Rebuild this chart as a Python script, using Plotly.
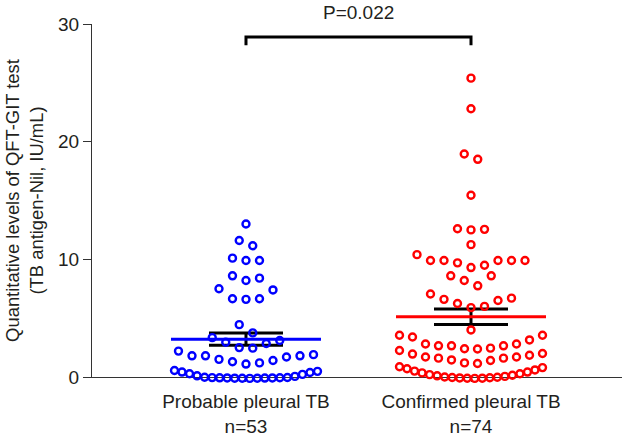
import numpy as np
import plotly.graph_objects as go

# ---------------- data ----------------
categories = ["Probable pleural TB", "Confirmed pleural TB"]
group_n_labels = ["n=53", "n=74"]
y_ticks = [0, 10, 20, 30]
p_text = "P=0.022"

probable_values = [
    -0.12, -0.11, -0.10, -0.10, -0.09, -0.08, -0.08, -0.07, -0.06, -0.05,
    -0.04, -0.02, 0.05, 0.10, 0.22, 0.28, 0.38, 0.42, 0.48, 0.55,
    1.1, 1.2, 1.3, 1.4, 1.5, 1.7, 1.8, 1.8, 1.8, 1.9, 2.2,
    2.45, 2.5, 2.85, 2.95, 3.1, 3.35,
    3.75, 4.45,
    6.6, 6.65, 6.65, 7.4, 7.5,
    8.2, 8.4, 8.6,
    9.9, 9.9, 10.1,
    11.15, 11.6,
    13.0,
]

confirmed_values = [
    -0.12, -0.11, -0.10, -0.08, -0.06, -0.04, -0.02, 0.0, 0.05, 0.10,
    0.15, 0.20, 0.28, 0.35, 0.42, 0.50, 0.60, 0.70, 0.80, 0.87,
    1.15, 1.2, 1.4, 1.45, 1.6, 1.6, 1.7, 1.7, 1.85, 1.95, 2.0, 2.25,
    2.38, 2.4, 2.45, 2.65, 2.65, 2.65, 2.8, 2.8, 3.15, 3.4, 3.55, 3.55,
    4.0,
    5.9, 6.0, 6.25, 6.5, 6.6, 6.7, 7.05,
    7.75, 8.2, 8.6, 8.6,
    9.3, 9.5, 9.7, 9.9, 9.9, 9.9, 9.9, 9.9, 10.4,
    11.25,
    12.5, 12.55, 12.6,
    15.45,
    18.5, 18.95,
    22.8,
    25.4,
]

colors = ["#0000FF", "#FF0000"]

# ---------------- layout constants ----------------
W, H = 624, 437
ML, MR, MT, MB = 92, 2, 24, 45
AXIS_Y_PX = 377                      # pixel row of the x axis (y = 0)
X_RANGE = [-0.6844, 1.6711]
Y_RANGE = [0, 30]
PX_PER_X = (W - ML - MR) / (X_RANGE[1] - X_RANGE[0])
PLOT_H = H - MT - MB
DOM_LOW = (H - MB - AXIS_Y_PX) / PLOT_H
PX_PER_Y = (AXIS_Y_PX - MT) / (Y_RANGE[1] - Y_RANGE[0])
Y2_RANGE = [Y_RANGE[0] - (H - MB - AXIS_Y_PX) / PX_PER_Y, Y_RANGE[1]]

FONT = "Liberation Sans, Arial, Helvetica, sans-serif"
TXT = "#231f20"


def swarm_offsets(values, row_height=1.2, spacing_px=13.5, max_width_px=143):
    """Prism-like scatter-dot layout: bin into rows, spread centred."""
    v = np.asarray(values, dtype=float)
    order = np.argsort(v, kind="stable")
    sv = v[order]
    offs = np.zeros(len(v))
    spacing = spacing_px / PX_PER_X
    max_w = max_width_px / PX_PER_X
    i = 0
    while i < len(sv):
        j = i
        while j < len(sv) and sv[j] < sv[i] + row_height - 1e-9:
            j += 1
        n = j - i
        step = spacing if n <= 1 else min(spacing, max_w / (n - 1))
        if n % 2 == 1:
            slots = [0.0]
            k = 1
            while len(slots) < n:
                slots += [k, -k]
                k += 1
        else:
            slots = []
            k = 0.5
            while len(slots) < n:
                slots += [k, -k]
                k += 1
        for m in range(n):
            offs[order[i + m]] = slots[m] * step
        i = j
    return offs


fig = go.Figure()

mean_half = 75 / PX_PER_X
sem_half = 37 / PX_PER_X

for gi, vals in enumerate([probable_values, confirmed_values]):
    arr = np.asarray(vals, dtype=float)
    mean = arr.mean()
    sem = arr.std(ddof=1) / np.sqrt(len(arr))
    # SEM bars (black)
    fig.add_trace(go.Scatter(
        x=[gi - sem_half, gi + sem_half, None, gi - sem_half, gi + sem_half, None, gi, gi],
        y=[mean + sem, mean + sem, None, mean - sem, mean - sem, None, mean - sem, mean + sem],
        mode="lines", line=dict(color="black", width=3), showlegend=False,
        hoverinfo="skip", cliponaxis=False, xaxis="x", yaxis="y2"))
    # mean line
    fig.add_trace(go.Scatter(
        x=[gi - mean_half, gi + mean_half], y=[mean, mean],
        mode="lines", line=dict(color=colors[gi], width=3), showlegend=False,
        hoverinfo="skip", cliponaxis=False, xaxis="x", yaxis="y2"))
    # points
    offs = swarm_offsets(arr)
    fig.add_trace(go.Scatter(
        x=gi + offs, y=arr, mode="markers",
        marker=dict(symbol="circle-open", size=7, color=colors[gi],
                    line=dict(width=2.4, color=colors[gi])),
        showlegend=False, cliponaxis=False, xaxis="x", yaxis="y2"))

# significance bracket
BR_Y, BR_DROP = 28.9, 0.7
fig.add_shape(type="path", xref="x", yref="y",
              path=f"M 0,{BR_Y - BR_DROP} L 0,{BR_Y} L 1,{BR_Y} L 1,{BR_Y - BR_DROP}",
              line=dict(color="black", width=3))
fig.add_annotation(x=0.5, y=BR_Y, xref="x", yref="y", text=p_text, showarrow=False,
                   yanchor="bottom", yshift=12, font=dict(family=FONT, size=19, color=TXT))

fig.update_layout(
    width=W, height=H, autosize=False,
    margin=dict(l=ML, r=MR, t=MT, b=MB, pad=0, autoexpand=False),
    plot_bgcolor="rgba(0,0,0,0)", paper_bgcolor="white",
    font=dict(family=FONT, size=19, color=TXT),
    xaxis=dict(range=X_RANGE, tickmode="array", tickvals=[0, 1], anchor="y",
               ticktext=[f"{c}<br>{n}" for c, n in zip(categories, group_n_labels)],
               showline=True, linecolor="#333", linewidth=1.2,
               ticks="outside", ticklen=4, tickcolor="#333", tickwidth=1,
               ticklabelstandoff=3, automargin=False,
               tickfont=dict(size=19),
               showgrid=False, zeroline=False, fixedrange=True),
    yaxis=dict(range=Y_RANGE, domain=[DOM_LOW, 1], tickmode="array", tickvals=y_ticks,
               anchor="x", automargin=False,
               showline=True, linecolor="#333", linewidth=1.2,
               ticks="outside", ticklen=8, tickcolor="#333", tickwidth=1,
               showgrid=False, zeroline=False,
               title=dict(text="Quantitative levels of QFT-GIT test<br>(TB antigen-Nil, IU/mL)",
                          standoff=9, font=dict(size=18.4))),
    yaxis2=dict(range=Y2_RANGE, domain=[0, 1], anchor="x", visible=False,
                showgrid=False, zeroline=False),
)

fig.write_html("out.html", config={"displayModeBar": False},
               post_script="document.body.style.margin='0';")
